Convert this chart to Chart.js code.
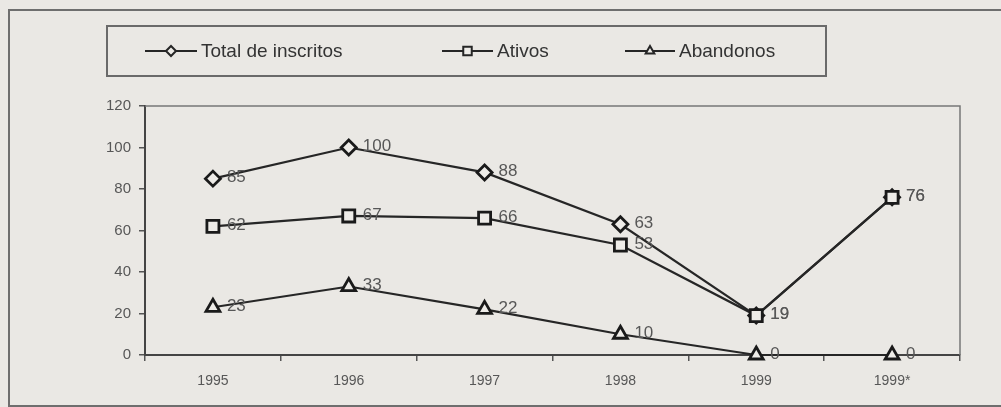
<!DOCTYPE html>
<html>
<head>
<meta charset="utf-8">
<script src="https://cdn.jsdelivr.net/npm/chart.js@4"></script>
<style>
  html, body { margin: 0; padding: 0; background: #eae8e4; overflow: hidden; }
  #wrap { position: relative; width: 1001px; height: 407px; overflow: hidden; }
  #frame { position: absolute; left: 8px; top: 9px; width: 1100px; height: 394px;
           border-left: 2px solid #6e6e6e; border-top: 2px solid #6e6e6e; border-bottom: 2px solid #6e6e6e; }
  canvas { position: absolute; left: 0; top: 0; }
</style>
</head>
<body>
<div id="wrap">
  <div id="frame"></div>
  <canvas id="chart" width="1001" height="407"></canvas>
</div>
<script>
const years = ['1995', '1996', '1997', '1998', '1999', '1999*'];
const totalInscritos = [85, 100, 88, 63, 19, 76];
const ativos = [62, 67, 66, 53, 19, 76];
const abandonos = [23, 33, 22, 10, 0, 0];
const seriesNames = ['Total de inscritos', 'Ativos', 'Abandonos'];

const lineColor = '#262626';
const fillColor = '#eeece8';
const textColor = '#575757';

// legend drawn by hand, the chart.js one can't do the boxed layout
const legendPlugin = {
    id: 'boxLegend',
    afterDraw(chart) {
        const ctx = chart.ctx;
        ctx.save();
        ctx.strokeStyle = '#6a6a6a';
        ctx.lineWidth = 2;
        ctx.strokeRect(107, 26, 719, 50);

        const items = [
            { name: seriesNames[0], style: 'rectRot', x1: 145, x2: 197 },
            { name: seriesNames[1], style: 'rect', x1: 442, x2: 493 },
            { name: seriesNames[2], style: 'triangle', x1: 625, x2: 675 }
        ];
        const y = 51;
        items.forEach(it => {
            ctx.strokeStyle = lineColor;
            ctx.lineWidth = 2;
            ctx.beginPath();
            ctx.moveTo(it.x1, y);
            ctx.lineTo(it.x2, y);
            ctx.stroke();
            ctx.fillStyle = fillColor;
            Chart.helpers.drawPoint(ctx, { pointStyle: it.style, radius: it.style == 'rect' ? 6 : 5, borderWidth: 2 }, (it.x1 + it.x2) / 2, y);
            ctx.fillStyle = '#333';
            ctx.font = '19px "Liberation Sans", Arial, sans-serif';
            ctx.textBaseline = 'middle';
            ctx.fillText(it.name, it.x2 + 4, y + 1);
        });
        ctx.restore();
    }
};

// value labels right of each point + the plot box
const valuePlugin = {
    id: 'values',
    beforeDatasetsDraw(chart) {
        const a = chart.chartArea;
        const ctx = chart.ctx;
        ctx.save();
        ctx.strokeStyle = '#777';
        ctx.lineWidth = 1.5;
        ctx.beginPath();
        ctx.moveTo(a.left, a.top);
        ctx.lineTo(a.right, a.top);
        ctx.lineTo(a.right, a.bottom);
        ctx.stroke();
        ctx.restore();
    },
    afterDatasetsDraw(chart) {
        const ctx = chart.ctx;
        ctx.save();
        ctx.fillStyle = textColor;
        ctx.font = '17px "Liberation Sans", Arial, sans-serif';
        ctx.textBaseline = 'middle';
        chart.data.datasets.forEach((ds, i) => {
            const meta = chart.getDatasetMeta(i);
            meta.data.forEach((pt, j) => {
                ctx.fillText(ds.data[j], pt.x + 14, pt.y - 1);
            });
        });
        ctx.restore();
    }
};

function makeSet(label, data, style, r, order) {
    return {
        label: label,
        data: data,
        borderColor: lineColor,
        borderWidth: 2.2,
        pointStyle: style,
        pointRadius: r,
        pointBorderWidth: 2.8,
        pointBorderColor: '#1a1a1a',
        pointBackgroundColor: fillColor,
        tension: 0,
        clip: false,
        order: order
    };
}

new Chart('chart', {
    type: 'line',
    data: {
        labels: years,
        datasets: [
            makeSet(seriesNames[0], totalInscritos, 'rectRot', 7.5, 1),
            makeSet(seriesNames[1], ativos, 'rect', 8.5, 0),
            makeSet(seriesNames[2], abandonos, 'triangle', 8, 2)
        ]
    },
    options: {
        responsive: false,
        animation: false,
        layout: { padding: { top: 106, right: 41, left: 0, bottom: 0 } },
        plugins: { legend: { display: false }, tooltip: { enabled: false } },
        scales: {
            x: {
                offset: true,
                afterFit: s => { s.height = 52; },
                grid: { offset: true, drawOnChartArea: false, drawTicks: true, tickLength: 6, color: '#555', lineWidth: 1.5 },
                border: { display: true, color: '#444', width: 2 },
                ticks: { color: textColor, padding: 12, font: { family: '"Liberation Sans", Arial, sans-serif', size: 14 } }
            },
            y: {
                min: 0,
                max: 120,
                afterFit: s => { s.width = 145; },
                grid: { drawOnChartArea: false, drawTicks: true, tickLength: 6, color: '#555', lineWidth: 1.5 },
                border: { display: true, color: '#444', width: 2 },
                ticks: { stepSize: 20, color: textColor, padding: 8, font: { family: '"Liberation Sans", Arial, sans-serif', size: 15 } }
            }
        }
    },
    plugins: [legendPlugin, valuePlugin]
});
</script>
</body>
</html>
